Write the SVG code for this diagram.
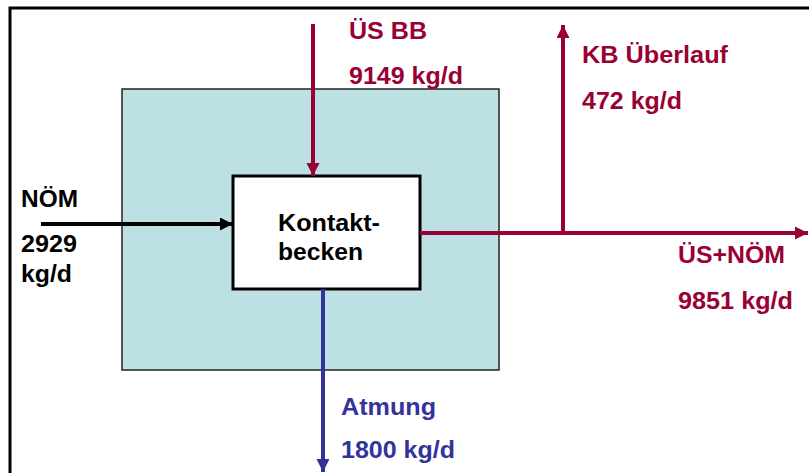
<svg xmlns="http://www.w3.org/2000/svg" width="809" height="473" viewBox="0 0 809 473">
<style>
text{font-family:"Liberation Sans",Arial,sans-serif;font-weight:bold;font-size:23px}
.red{fill:#990033}.blue{fill:#333399}.blk{fill:#000}
.lr{stroke:#990033;stroke-width:4;fill:none}
.lb{stroke:#333399;stroke-width:4;fill:none}
.lk{stroke:#000;stroke-width:4;fill:none}
</style>
<defs>
<marker id="ar" markerUnits="userSpaceOnUse" markerWidth="14" markerHeight="14" refX="13" refY="6.5" orient="auto"><path d="M0,0 L13,6.5 L0,13 Z" fill="#990033"/></marker>
<marker id="ab" markerUnits="userSpaceOnUse" markerWidth="14" markerHeight="14" refX="13" refY="6.5" orient="auto"><path d="M0,0 L13,6.5 L0,13 Z" fill="#333399"/></marker>
<marker id="ak" markerUnits="userSpaceOnUse" markerWidth="14" markerHeight="14" refX="13" refY="6.5" orient="auto"><path d="M0,0 L13,6.5 L0,13 Z" fill="#000"/></marker>
</defs>
<rect width="809" height="473" fill="#fff"/>
<rect x="10" y="8" width="830" height="490" fill="none" stroke="#000" stroke-width="3"/>
<g id="tank">
<rect x="122" y="89" width="377" height="281" fill="#BCE0E3" stroke="#222" stroke-width="1.5"/>
</g>
<g id="kontaktbecken">
<rect x="233" y="176" width="187" height="113" fill="#fff" stroke="#000" stroke-width="3"/>
<text x="278" y="231" class="blk" textLength="102" lengthAdjust="spacingAndGlyphs">Kontakt-</text>
<text x="278" y="260" class="blk" textLength="85" lengthAdjust="spacingAndGlyphs">becken</text>
</g>
<g id="connectors">
<line x1="41" y1="224" x2="233" y2="224" class="lk" marker-end="url(#ak)"/>
<line x1="313" y1="24" x2="313" y2="176" class="lr" marker-end="url(#ar)"/>
<line x1="420" y1="233" x2="808" y2="233" class="lr" marker-end="url(#ar)"/>
<line x1="563" y1="233" x2="563" y2="25" class="lr" marker-end="url(#ar)"/>
<line x1="323" y1="289" x2="323" y2="472" class="lb" marker-end="url(#ab)"/>
</g>
<g id="label-noem">
<text x="21" y="207" class="blk" textLength="57" lengthAdjust="spacingAndGlyphs">NÖM</text>
<text x="21" y="252" class="blk" textLength="56" lengthAdjust="spacingAndGlyphs">2929</text>
<text x="21" y="282" class="blk" textLength="51" lengthAdjust="spacingAndGlyphs">kg/d</text>
</g>
<g id="label-usbb">
<text x="349" y="39" class="red" textLength="78" lengthAdjust="spacingAndGlyphs">ÜS BB</text>
<text x="349" y="84" class="red" textLength="114" lengthAdjust="spacingAndGlyphs">9149 kg/d</text>
</g>
<g id="label-kb">
<text x="582" y="63" class="red" textLength="146" lengthAdjust="spacingAndGlyphs">KB Überlauf</text>
<text x="582" y="109" class="red" textLength="100" lengthAdjust="spacingAndGlyphs">472 kg/d</text>
</g>
<g id="label-usnoem">
<text x="678" y="263" class="red" textLength="107" lengthAdjust="spacingAndGlyphs">ÜS+NÖM</text>
<text x="678" y="309" class="red" textLength="115" lengthAdjust="spacingAndGlyphs">9851 kg/d</text>
</g>
<g id="label-atmung">
<text x="341" y="415" class="blue" textLength="95" lengthAdjust="spacingAndGlyphs">Atmung</text>
<text x="341" y="458" class="blue" textLength="114" lengthAdjust="spacingAndGlyphs">1800 kg/d</text>
</g>
</svg>
